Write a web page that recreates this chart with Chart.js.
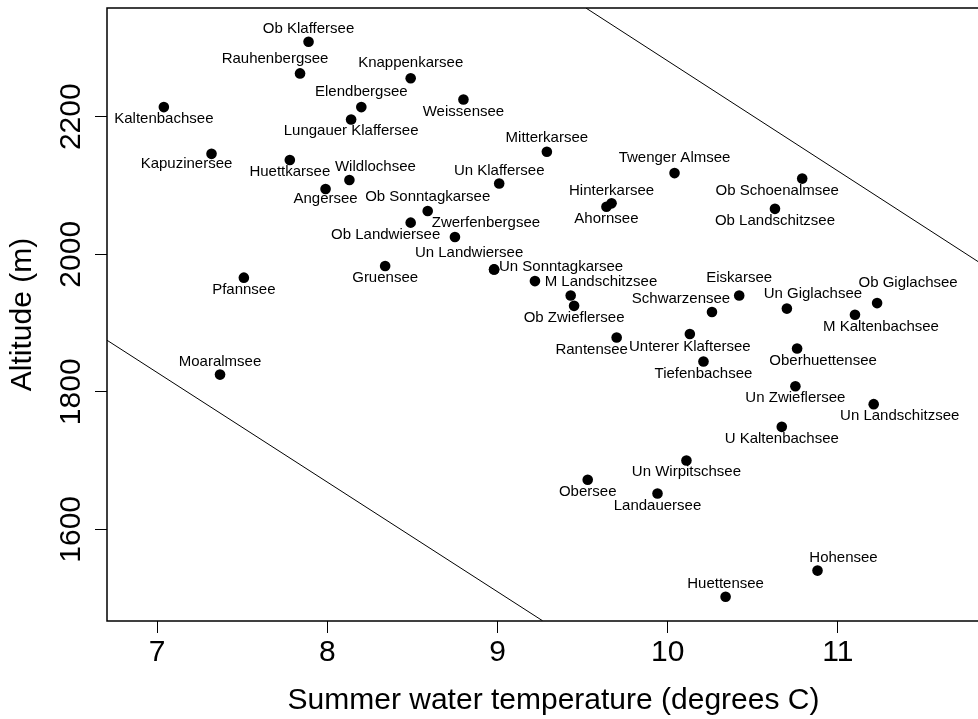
<!DOCTYPE html>
<html>
<head>
<meta charset="utf-8">
<script src="https://cdn.jsdelivr.net/npm/chart.js@4"></script>
<style>
  html, body { margin: 0; padding: 0; background: #fff; overflow: hidden; }
  canvas { display: block; }
</style>
</head>
<body>
<canvas id="lakeChart" width="1010" height="719"></canvas>
<script>
// lakes, summer water temperature (deg C) and altitude (m)
const lakes = [
  'Ob Klaffersee', 'Rauhenbergsee', 'Knappenkarsee', 'Elendbergsee', 'Weissensee',
  'Kaltenbachsee', 'Lungauer Klaffersee', 'Kapuzinersee', 'Huettkarsee', 'Wildlochsee',
  'Angersee', 'Un Klaffersee', 'Ob Sonntagkarsee', 'Ob Landwiersee', 'Zwerfenbergsee',
  'Un Landwiersee', 'Un Sonntagkarsee', 'Gruensee', 'Pfannsee', 'Moaralmsee',
  'Mitterkarsee', 'Twenger Almsee', 'Hinterkarsee', 'Ahornsee', 'Ob Schoenalmsee',
  'Ob Landschitzsee', 'M Landschitzsee', '', 'Ob Zwieflersee', 'Eiskarsee',
  'Schwarzensee', 'Un Giglachsee', 'Ob Giglachsee', 'M Kaltenbachsee', 'Rantensee',
  'Unterer Klaftersee', 'Oberhuettensee', 'Tiefenbachsee', 'Un Zwieflersee', 'Un Landschitzsee',
  'U Kaltenbachsee', 'Un Wirpitschsee', 'Obersee', 'Landauersee', 'Hohensee',
  'Huettensee'
];
const temperature = [
  7.89, 7.84, 8.49, 8.20, 8.80,
  7.04, 8.14, 7.32, 7.78, 8.13,
  7.99, 9.01, 8.59, 8.49, 8.75,
  8.98, 8.98, 8.34, 7.51, 7.37,
  9.29, 10.04, 9.67, 9.64, 10.79,
  10.63, 9.22, 9.43, 9.45, 10.42,
  10.26, 10.70, 11.23, 11.10, 9.70,
  10.13, 10.76, 10.21, 10.75, 11.21,
  10.67, 10.11, 9.53, 9.94, 10.88,
  10.34
];
const altitude = [
  2309, 2263, 2256, 2214, 2225,
  2214, 2196, 2146, 2137, 2108,
  2095, 2103, 2063, 2046, 2025,
  1978, 1978, 1983, 1966, 1825,
  2149, 2118, 2074, 2069, 2110,
  2066, 1961, 1940, 1925, 1940,
  1916, 1921, 1929, 1912, 1879,
  1884, 1863, 1844, 1808, 1782,
  1749, 1700, 1672, 1652, 1540,
  1502
];

// the two boundary lines, as end points
const upperLineX = [9.52, 11.95];
const upperLineY = [2358, 1969];
const lowerLineX = [6.706, 9.265];
const lowerLineY = [1875, 1467];

const xTicks = [7, 8, 9, 10, 11];
const yTicks = [1600, 1800, 2000, 2200];

// where each name sits relative to its point (px, centre of text)
const labelOffsets = [
  [0, -13], [-25, -15], [0, -15], [0, -15], [0, 12],
  [0, 12], [0, 11], [-25, 10], [0, 12], [26, -13],
  [0, 10], [0, -13], [0, -14], [-25, 12], [31, -14],
  [-25, -17], [67, -3], [0, 12], [0, 12], [0, -13],
  [0, -14], [0, -15], [0, -13], [0, 12], [-25, 12],
  [0, 12], [66, 1], [0, 0], [0, 12], [0, -18],
  [-31, -13], [26, -15], [31, -20], [26, 12], [-25, 12],
  [0, 13], [26, 12], [0, 12], [0, 12], [26, 12],
  [0, 12], [0, 11], [0, 12], [0, 12], [26, -13],
  [0, -13]
];

const FONT = '"Liberation Sans", Arial, Helvetica, sans-serif';

const toXY = (xs, ys) => xs.map((x, i) => ({ x: x, y: ys[i] }));

const lakeLabels = {
  id: 'lakeLabels',
  afterDatasetsDraw(chart) {
    const ctx = chart.ctx;
    const pts = chart.getDatasetMeta(0).data;
    ctx.save();
    ctx.font = '15px ' + FONT;
    ctx.fillStyle = '#000';
    ctx.textAlign = 'center';
    ctx.textBaseline = 'middle';
    pts.forEach((el, i) => {
      if (!lakes[i]) return;
      const off = labelOffsets[i];
      ctx.fillText(lakes[i], el.x + off[0], el.y + off[1]);
    });
    ctx.restore();
  }
};

const frame = {
  id: 'frame',
  afterDraw(chart) {
    const ctx = chart.ctx;
    const a = chart.chartArea;
    const yScale = chart.scales.y;
    ctx.save();
    ctx.strokeStyle = '#000';
    ctx.lineWidth = 1.5;
    ctx.strokeRect(a.left, a.top, a.right - a.left, a.bottom - a.top);
    // R style rotated y tick labels
    ctx.font = '30px ' + FONT;
    ctx.fillStyle = '#000';
    ctx.textAlign = 'center';
    ctx.textBaseline = 'alphabetic';
    yTicks.forEach(v => {
      ctx.save();
      ctx.translate(80, yScale.getPixelForValue(v));
      ctx.rotate(-Math.PI / 2);
      ctx.fillText(String(v), 0, 0);
      ctx.restore();
    });
    ctx.restore();
  }
};

new Chart(document.getElementById('lakeChart').getContext('2d'), {
  type: 'scatter',
  data: {
    datasets: [
      {
        data: toXY(temperature, altitude),
        backgroundColor: '#000',
        borderWidth: 0,
        pointRadius: 5.3,
        pointHoverRadius: 5.3
      },
      {
        data: toXY(upperLineX, upperLineY),
        showLine: true,
        borderColor: '#000',
        borderWidth: 1,
        pointRadius: 0
      },
      {
        data: toXY(lowerLineX, lowerLineY),
        showLine: true,
        borderColor: '#000',
        borderWidth: 1,
        pointRadius: 0
      }
    ]
  },
  options: {
    responsive: false,
    animation: false,
    events: [],
    layout: { padding: { left: 0, top: 8, right: 10, bottom: 0 } },
    plugins: {
      legend: { display: false },
      tooltip: { enabled: false }
    },
    scales: {
      x: {
        type: 'linear',
        min: 6.706,
        max: 11.952,
        afterBuildTicks: s => { s.ticks = xTicks.map(v => ({ value: v })); },
        afterFit: s => { s.height = 98; },
        grid: { drawOnChartArea: false, drawTicks: true, tickLength: 12, color: '#000', lineWidth: 1 },
        border: { display: false },
        ticks: {
          color: '#000',
          padding: 2,
          maxRotation: 0,
          font: { family: FONT, size: 30, lineHeight: 1.2 }
        },
        title: {
          display: true,
          text: 'Summer water temperature (degrees C)',
          color: '#000',
          padding: { top: 0, bottom: 0 },
          font: { family: FONT, size: 30, lineHeight: 1.2 }
        }
      },
      y: {
        type: 'linear',
        min: 1466.7,
        max: 2358.1,
        afterBuildTicks: s => { s.ticks = yTicks.map(v => ({ value: v })); },
        afterFit: s => { s.width = 107; },
        grid: { drawOnChartArea: false, drawTicks: true, tickLength: 12, color: '#000', lineWidth: 1 },
        border: { display: false },
        ticks: { display: false },
        title: {
          display: true,
          text: 'Altitude (m)',
          color: '#000',
          padding: { top: 4.5, bottom: 0 },
          font: { family: FONT, size: 30, lineHeight: 1.2 }
        }
      }
    }
  },
  plugins: [lakeLabels, frame]
});
</script>
</body>
</html>
